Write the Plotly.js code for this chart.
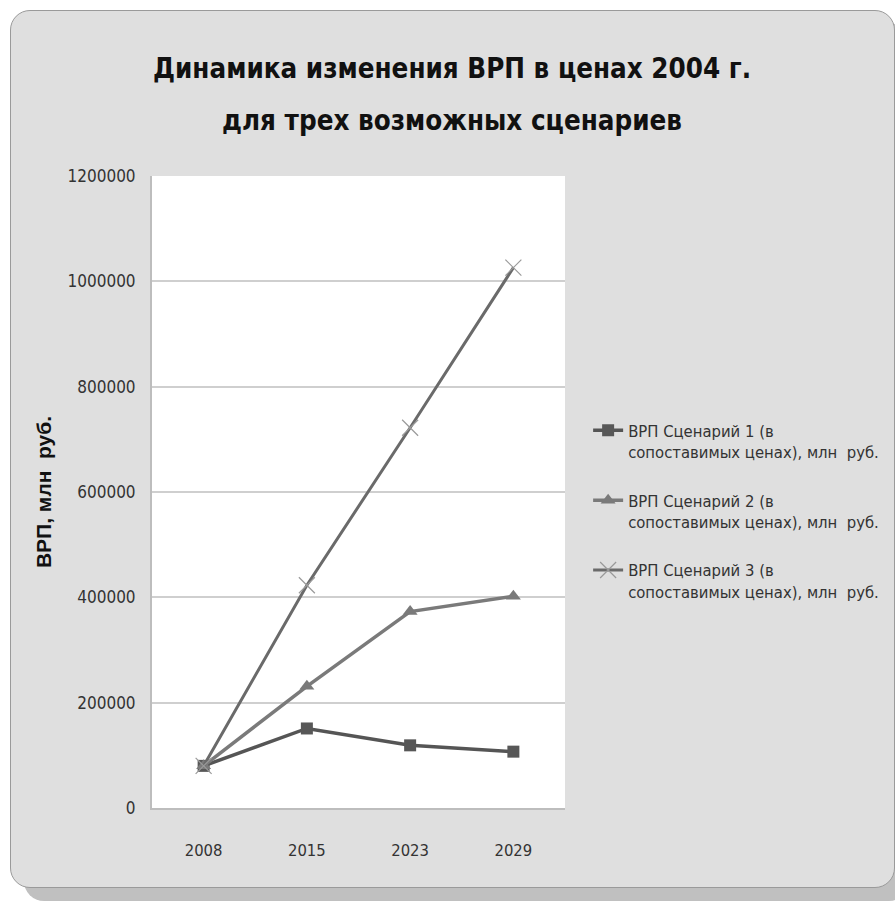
<!DOCTYPE html>
<html>
<head>
<meta charset="utf-8">
<script src="https://cdn.plot.ly/plotly-3.0.1.min.js"></script>
<style>
  html, body { margin: 0; padding: 0; background: #ffffff; }
  #frame {
    position: absolute; left: 10px; top: 10px; width: 883px; height: 876px;
    background: #dfdfdf; border: 1.5px solid #9a9a9a; border-radius: 20px;
    box-shadow: 14px 13px 0 #c0c0c0;
  }
  #chart { position: absolute; left: 0; top: 0; width: 895px; height: 901px; }
</style>
</head>
<body>
<div id="frame"></div>
<div id="chart"></div>
<script>
const years = ["2008", "2015", "2023", "2029"];
const scenario1 = [80000, 151000, 119000, 107000];
const scenario2 = [80000, 231000, 373000, 402000];
const scenario3 = [80000, 423000, 722000, 1026000];
const seriesNames = [
  "ВРП Сценарий 1 (в<br>сопоставимых ценах), млн  руб.",
  "ВРП Сценарий 2 (в<br>сопоставимых ценах), млн  руб.",
  "ВРП Сценарий 3 (в<br>сопоставимых ценах), млн  руб."
];
const titleLines = ["Динамика изменения ВРП в ценах 2004 г.", "для трех возможных сценариев"];
const yTicks = [0, 200000, 400000, 600000, 800000, 1000000, 1200000];

const narrow = "'DejaVu Sans Condensed', 'Liberation Sans Narrow', Arial, sans-serif";

const traces = [
  {
    x: years, y: scenario1, name: seriesNames[0], type: "scatter", mode: "lines+markers",
    legendgroup: "s1",
    line: { color: "#555555", width: 3.5 },
    marker: { symbol: "square", size: 12, color: "#575757" }
  },
  {
    x: years, y: scenario2, name: seriesNames[1], type: "scatter", mode: "lines+markers",
    legendgroup: "s2",
    line: { color: "#7a7a7a", width: 3.5 },
    marker: { symbol: "triangle-up", size: 13, color: "#7a7a7a" }
  },
  {
    x: years, y: scenario3, name: seriesNames[2], type: "scatter", mode: "lines+markers",
    legendgroup: "s3",
    line: { color: "#6a6a6a", width: 3 },
    marker: { symbol: "x-thin", size: 16, color: "#9a9a9a", line: { color: "#9a9a9a", width: 1.2 } }
  }
];

const titleFont = { family: narrow, size: 27.5, color: "#111111", weight: "bold" };

const layout = {
  width: 895, height: 901,
  paper_bgcolor: "rgba(0,0,0,0)",
  plot_bgcolor: "#ffffff",
  margin: { l: 152, r: 330, t: 176, b: 93, autoexpand: false },
  annotations: [
    { text: titleLines[0], xref: "paper", yref: "paper", x: 0.726, y: 1.171,
      xanchor: "center", yanchor: "middle", showarrow: false, font: titleFont },
    { text: titleLines[1], xref: "paper", yref: "paper", x: 0.726, y: 1.089,
      xanchor: "center", yanchor: "middle", showarrow: false, font: titleFont }
  ],
  showlegend: true,
  legend: {
    x: 1.056, xanchor: "left", y: 0.625, yanchor: "top",
    bgcolor: "rgba(0,0,0,0)",
    font: { family: narrow, size: 16.5, color: "#333333" },
    valign: "top", traceorder: "grouped", tracegroupgap: 24, itemwidth: 30
  },
  xaxis: {
    type: "category", range: [-0.5, 3.5],
    tickfont: { family: narrow, size: 16.5, color: "#333333" },
    showgrid: false, zeroline: false,
    showline: true, linecolor: "#bdbdbd", linewidth: 2,
    ticks: "", ticklabelstandoff: 26
  },
  yaxis: {
    range: [0, 1200000],
    tickvals: yTicks, ticktext: yTicks.map(String),
    tickfont: { family: narrow, size: 17, color: "#333333" },
    showgrid: true, gridcolor: "#cfcfcf", gridwidth: 2,
    zeroline: false, showline: true, linecolor: "#bdbdbd", linewidth: 2,
    ticks: "", ticklabelstandoff: 11,
    title: {
      text: "ВРП, млн  руб.",
      font: { family: "'Liberation Sans', Arial, sans-serif", size: 21, color: "#111111", weight: "bold" },
      standoff: 10
    }
  }
};

Plotly.newPlot("chart", traces, layout, { displayModeBar: false, staticPlot: true });
</script>
</body>
</html>
